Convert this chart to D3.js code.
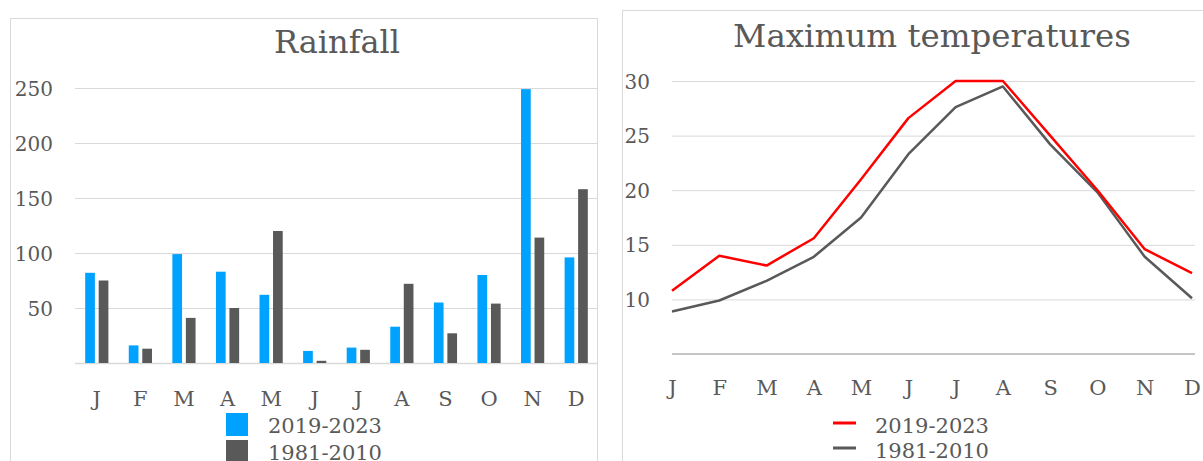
<!DOCTYPE html>
<html>
<head>
<meta charset="utf-8">
<script src="https://cdn.jsdelivr.net/npm/d3@7"></script>
<style>
  body { margin: 0; background: #fff; }
  svg text { font-family: Georgia, "DejaVu Serif", serif; fill: #595959; }
</style>
</head>
<body>
<svg id="chart" width="1203" height="461"></svg>
<script>
var months = ["J", "F", "M", "A", "M", "J", "J", "A", "S", "O", "N", "D"];
var seriesNames = ["2019-2023", "1981-2010"];

// rainfall, mm
var rainRecent = [82, 16, 99, 83, 62, 11, 14, 33, 55, 80, 249, 96];
var rainNormal = [75, 13, 41, 50, 120, 2, 12, 72, 27, 54, 114, 158];
var rainTicks = [50, 100, 150, 200, 250];

// maximum temperatures, C
var tempRecent = [10.8, 14.0, 13.1, 15.6, 21.0, 26.6, 30, 30, 25.0, 20.0, 14.6, 12.4];
var tempNormal = [8.9, 9.9, 11.7, 13.9, 17.5, 23.3, 27.6, 29.5, 24.2, 19.8, 13.9, 10.1];
var tempTicks = [10, 15, 20, 25, 30];

var blue = "#00a2ff", grey = "#595959", red = "#ff0000", grid = "#d9d9d9";

var svg = d3.select("#chart");

// ---------- left panel: rainfall bars ----------
svg.append("rect")
  .attr("x", 10.5).attr("y", 18.5)
  .attr("width", 587).attr("height", 460)
  .attr("fill", "none").attr("stroke", grid);

var x1 = d3.scaleBand().domain(d3.range(12)).range([75, 598]);
var y1 = d3.scaleLinear().domain([0, 250]).range([363, 88]);

svg.append("g")
  .attr("transform", "translate(75,0)")
  .call(d3.axisLeft(y1).tickValues(rainTicks).tickSize(-(598 - 75)).tickPadding(22))
  .call(function(g) {
    g.select(".domain").remove();
    g.selectAll(".tick line").attr("stroke", grid);
    g.selectAll(".tick text").style("font-size", "20px").attr("dy", "0.35em");
  });

svg.append("line")
  .attr("x1", 75).attr("x2", 598)
  .attr("y1", y1(0) + 0.5).attr("y2", y1(0) + 0.5)
  .attr("stroke", grid).attr("stroke-width", 1.5);

var barW = 9.7, gap = 3.8;
var rainSeries = [rainRecent, rainNormal];
var rainColors = [blue, grey];

rainSeries.forEach(function(vals, s) {
  svg.append("g").selectAll("rect")
    .data(vals)
    .enter().append("rect")
    .attr("x", function(d, i) {
      var c = x1(i) + x1.bandwidth() / 2;
      return s === 0 ? c - gap / 2 - barW : c + gap / 2;
    })
    .attr("y", function(d) { return y1(d); })
    .attr("width", barW)
    .attr("height", function(d) { return y1(0) - y1(d); })
    .attr("fill", rainColors[s]);
});

svg.append("g")
  .attr("transform", "translate(0,363)")
  .call(d3.axisBottom(x1).tickSize(0).tickPadding(28).tickFormat(function(i) { return months[i]; }))
  .call(function(g) {
    g.select(".domain").remove();
    g.selectAll(".tick text").style("font-size", "21px");
  });

svg.append("text")
  .attr("x", 337).attr("y", 53)
  .attr("text-anchor", "middle")
  .style("font-size", "32px")
  .text("Rainfall");

var leg1 = svg.append("g").selectAll("g")
  .data(seriesNames)
  .enter().append("g")
  .attr("transform", function(d, i) { return "translate(226," + (413 + i * 27) + ")"; });
leg1.append("rect").attr("width", 22).attr("height", 23)
  .attr("fill", function(d, i) { return rainColors[i]; });
leg1.append("text").attr("x", 42).attr("y", 20)
  .style("font-size", "21px")
  .text(function(d) { return d; });

// ---------- right panel: temperature lines ----------
svg.append("rect")
  .attr("x", 622.5).attr("y", 10.5)
  .attr("width", 600).attr("height", 470)
  .attr("fill", "none").attr("stroke", grid);

var x2 = d3.scalePoint().domain(d3.range(12)).range([672, 1192]);
var y2 = d3.scaleLinear().domain([5, 30]).range([354, 81]);

svg.append("g")
  .attr("transform", "translate(672,0)")
  .call(d3.axisLeft(y2).tickValues(tempTicks).tickSize(-(1195 - 672)).tickPadding(22))
  .call(function(g) {
    g.select(".domain").remove();
    g.selectAll(".tick line").attr("stroke", grid);
    g.selectAll(".tick text").style("font-size", "20px").attr("dy", "0.35em");
  });

svg.append("line")
  .attr("x1", 672).attr("x2", 1195)
  .attr("y1", y2(5)).attr("y2", y2(5))
  .attr("stroke", "#8c8c8c").attr("stroke-width", 1.2);

svg.append("g")
  .attr("transform", "translate(0,354)")
  .call(d3.axisBottom(x2).tickSize(0).tickPadding(26).tickFormat(function(i) { return months[i]; }))
  .call(function(g) {
    g.select(".domain").remove();
    g.selectAll(".tick text").style("font-size", "21px");
  });

var line = d3.line()
  .x(function(d, i) { return x2(i); })
  .y(function(d) { return y2(d); });

var tempSeries = [tempNormal, tempRecent];
var tempColors = [grey, red];
tempSeries.forEach(function(vals, s) {
  svg.append("path")
    .datum(vals)
    .attr("d", line)
    .attr("fill", "none")
    .attr("stroke", tempColors[s])
    .attr("stroke-width", 2.5)
    .attr("stroke-linejoin", "round");
});

svg.append("text")
  .attr("x", 932).attr("y", 47)
  .attr("text-anchor", "middle")
  .style("font-size", "32.5px")
  .text("Maximum temperatures");

var legColors = [red, grey];
var leg2 = svg.append("g").selectAll("g")
  .data(seriesNames)
  .enter().append("g")
  .attr("transform", function(d, i) { return "translate(833," + (423 + i * 25) + ")"; });
leg2.append("line").attr("x1", 0).attr("x2", 23)
  .attr("stroke", function(d, i) { return legColors[i]; })
  .attr("stroke-width", 3);
leg2.append("text").attr("x", 42).attr("y", 10)
  .style("font-size", "21px")
  .text(function(d) { return d; });
</script>
</body>
</html>
